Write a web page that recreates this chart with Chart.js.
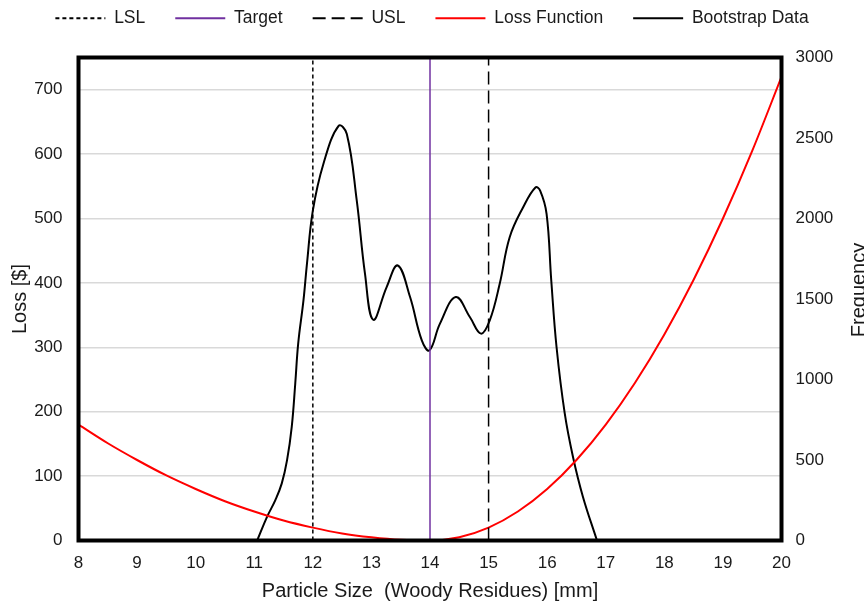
<!DOCTYPE html>
<html>
<head>
<meta charset="utf-8">
<script src="https://cdn.jsdelivr.net/npm/chart.js@4"></script>
<style>
  body { margin: 0; background: #fff; }
  #wrap { width: 864px; height: 601px; position: relative; }
</style>
</head>
<body>
<div id="wrap"><canvas id="chart-js"></canvas></div>
<script>
// loss function [$], every 0.5 mm
const lossX = [8, 8.5, 9, 9.5, 10, 10.5, 11, 11.5, 12, 12.5, 13, 13.5, 14, 14.5, 15, 15.5, 16, 16.5, 17, 17.5, 18, 18.5, 19, 19.5, 20];
const lossValues = [180, 151, 125, 101, 80, 61, 45, 31, 20, 11, 5, 1, 0, 5, 20, 45, 80, 125, 180, 245, 320, 405, 500, 605, 720];

// bootstrap frequency curve (right axis)
const bootX = [11.05, 11.22, 11.36, 11.47, 11.56, 11.64, 11.70, 11.75, 11.84, 11.90, 12.00, 12.18, 12.44, 12.58, 12.75, 12.89, 13.03, 13.26, 13.45, 13.66, 13.86, 13.99, 14.17, 14.44, 14.68, 14.87, 15.02, 15.19, 15.36, 15.59, 15.80, 15.88, 15.99, 16.07, 16.16, 16.30, 16.44, 16.61, 16.85];
const bootFreq = [0, 148, 251, 355, 499, 706, 975, 1223, 1491, 1720, 2049, 2339, 2576, 2525, 2111, 1657, 1371, 1574, 1708, 1512, 1243, 1181, 1347, 1512, 1388, 1285, 1367, 1595, 1884, 2070, 2193, 2173, 2029, 1615, 1202, 789, 520, 272, 0];

const lsl = 12;
const target = 14;
const usl = 15;
const lossRange = [0, 750];

const fontFamily = "'Liberation Sans', Arial, sans-serif";
const textColor = '#1a1a1a';

function toPoints(xs, ys) {
  return xs.map((x, i) => ({ x: x, y: ys[i] }));
}

function vLine(x) {
  return [{ x: x, y: lossRange[0] }, { x: x, y: lossRange[1] }];
}

const framePlugin = {
  id: 'frame',
  afterDatasetsDraw(chart) {
    const { ctx, chartArea } = chart;
    ctx.save();
    ctx.strokeStyle = '#000';
    ctx.lineWidth = 4;
    ctx.strokeRect(chartArea.left, chartArea.top, chartArea.right - chartArea.left, chartArea.bottom - chartArea.top);
    ctx.restore();
  }
};

// right axis title reads bottom-to-top like the left one
const rightTitlePlugin = {
  id: 'rightTitle',
  afterDraw(chart) {
    const ctx = chart.ctx;
    ctx.save();
    ctx.translate(865, 290);
    ctx.rotate(-Math.PI / 2);
    ctx.font = '20px ' + fontFamily;
    ctx.fillStyle = textColor;
    ctx.textAlign = 'center';
    ctx.textBaseline = 'alphabetic';
    ctx.fillText('Frequency', 0, 0);
    ctx.restore();
  }
};

const ctx = document.getElementById('chart-js').getContext('2d');

new Chart(ctx, {
  type: 'line',
  data: {
    datasets: [{
      label: 'LSL',
      data: vLine(lsl),
      borderColor: '#000',
      borderWidth: 1.5,
      borderDash: [4, 3],
      pointRadius: 0,
      xAxisID: 'x',
      yAxisID: 'y'
    }, {
      label: 'Target',
      data: vLine(target),
      borderColor: '#7030A0',
      borderWidth: 1.5,
      pointRadius: 0,
      xAxisID: 'x',
      yAxisID: 'y'
    }, {
      label: 'USL',
      data: vLine(usl),
      borderColor: '#000',
      borderWidth: 1.5,
      borderDash: [13, 6],
      pointRadius: 0,
      xAxisID: 'x',
      yAxisID: 'y'
    }, {
      label: 'Loss Function',
      data: toPoints(lossX, lossValues),
      borderColor: '#ff0000',
      borderWidth: 2,
      cubicInterpolationMode: 'monotone',
      pointRadius: 0,
      xAxisID: 'x',
      yAxisID: 'y'
    }, {
      label: 'Bootstrap Data',
      data: toPoints(bootX, bootFreq),
      borderColor: '#000',
      borderWidth: 2,
      tension: 0.4,
      pointRadius: 0,
      xAxisID: 'x',
      yAxisID: 'y1'
    }]
  },
  options: {
    responsive: true,
    maintainAspectRatio: false,
    animation: false,
    layout: {
      padding: { top: -20.5, left: 0, right: 0, bottom: 0 }
    },
    plugins: {
      legend: {
        display: true,
        position: 'top',
        labels: {
          usePointStyle: true,
          pointStyle: 'line',
          pointStyleWidth: 50,
          padding: 30,
          color: textColor,
          font: { family: fontFamily, size: 17.5 },
          generateLabels(chart) {
            const items = Chart.defaults.plugins.legend.labels.generateLabels(chart);
            items.forEach((item) => {
              const ds = chart.data.datasets[item.datasetIndex];
              item.lineDash = ds.borderDash || [];
              item.strokeStyle = ds.borderColor;
              item.lineWidth = 2;
            });
            return items;
          }
        }
      },
      tooltip: { enabled: false }
    },
    scales: {
      x: {
        type: 'linear',
        position: 'bottom',
        min: 8,
        max: 20,
        ticks: {
          stepSize: 1,
          padding: 13,
          color: textColor,
          font: { family: fontFamily, size: 17 }
        },
        grid: { display: false, drawTicks: false },
        border: { display: false },
        title: {
          display: true,
          text: 'Particle Size  (Woody Residues) [mm]',
          color: textColor,
          font: { family: fontFamily, size: 20, lineHeight: 1 },
          padding: { top: 0, bottom: 0 }
        },
        afterFit(scale) { scale.height = 60.5; }
      },
      xTop: {
        type: 'linear',
        position: 'top',
        display: true,
        ticks: { display: false },
        grid: { display: false, drawTicks: false },
        border: { display: false },
        afterFit(scale) { scale.height = 20.5; }
      },
      y: {
        type: 'linear',
        position: 'left',
        min: lossRange[0],
        max: lossRange[1],
        ticks: {
          stepSize: 100,
          padding: 16,
          color: textColor,
          font: { family: fontFamily, size: 17 },
          callback: (value) => (value > 700 ? '' : String(value))
        },
        grid: { color: '#d9d9d9', lineWidth: 1.5, drawTicks: false },
        border: { display: false },
        title: {
          display: true,
          text: 'Loss [$]',
          color: textColor,
          font: { family: fontFamily, size: 20, lineHeight: 1 },
          padding: { top: 10, bottom: 0 }
        },
        afterFit(scale) { scale.width = 78.5; }
      },
      y1: {
        type: 'linear',
        position: 'right',
        min: 0,
        max: 3000,
        ticks: {
          stepSize: 500,
          padding: 14,
          color: textColor,
          font: { family: fontFamily, size: 17 },
          callback: (value) => String(value)
        },
        grid: { display: false, drawTicks: false },
        border: { display: false },
        afterFit(scale) { scale.width = 82.5; }
      }
    }
  },
  plugins: [framePlugin, rightTitlePlugin]
});
</script>
</body>
</html>
